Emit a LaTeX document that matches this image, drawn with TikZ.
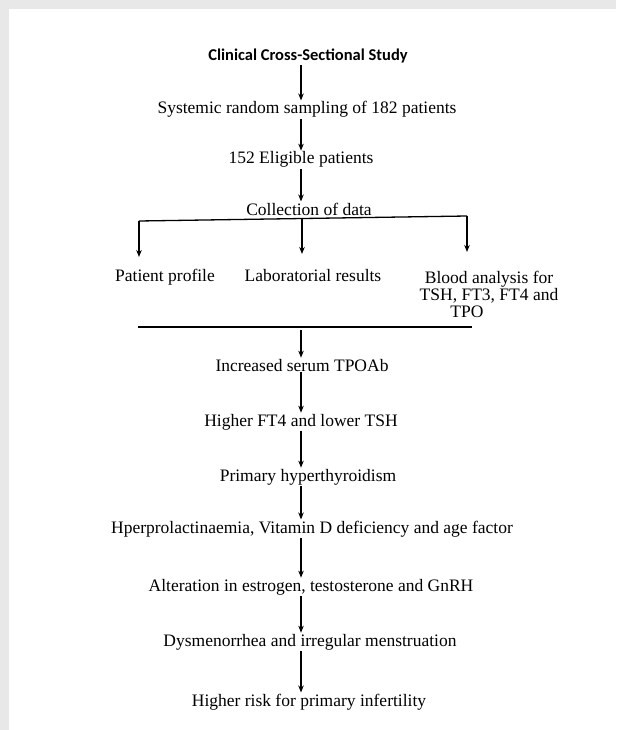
\documentclass[tikz,border=0pt]{standalone}
\usepackage{fontspec}
\setmainfont{Liberation Serif}
\newfontfamily\titlefont{Carlito}
\usetikzlibrary{arrows.meta}
\definecolor{framegray}{HTML}{E8E8E8}
\begin{document}
\begin{tikzpicture}[x=1pt, y=-1pt,
    txt/.style = {inner sep=1pt, anchor=base, font=\fontsize{17.5}{17.5}\selectfont},
    arr/.style = {-{Stealth[length=7pt, width=5.5pt]}, line width=1.3pt}]
    % page with grey frame
    \fill [framegray] (0,0) rectangle (616,730);
    \fill [white] (9,9) rectangle (616,730);
    \useasboundingbox (0,0) rectangle (616,730);

    \coordinate (spine) at (301,0);

    \node (title) [inner sep=1pt, anchor=base, font=\titlefont\bfseries\fontsize{16.5}{16.5}\selectfont] at (308,61) {Clinical Cross-Sectional Study};
    \node (samp) [txt] at (307,114) {Systemic random sampling of 182 patients};
    \node (elig) [txt] at (301,164) {152 Eligible patients};
    \node (coll) [txt] at (309,215) {Collection of data};

    % branches
    \node (prof) [txt] at (165,281) {Patient profile};
    \node (lab) [txt] at (313,281) {Laboratorial results};
    \node (blood) [txt, align=center, anchor=north, font=\fontsize{17.5}{17}\selectfont] at (489,270) {Blood analysis for\\TSH, FT3, FT4 and\\TPO\hspace*{44pt}};

    \coordinate (bl) at (139,221);
    \coordinate (bm) at (302,219);
    \coordinate (br) at (467,216);
    \coordinate (blend) at (139,257);
    \coordinate (bmend) at (302,254);
    \coordinate (brend) at (467,252);
    \draw [line width=1.3pt] (bl) -- (br);
    \draw [arr] (bl) -- (blend);
    \draw [arr] (bm) -- (bmend);
    \draw [arr] (br) -- (brend);

    \coordinate (jl) at (138,327);
    \coordinate (jr) at (472,327);
    \draw [line width=1.3pt] (jl) -- (jr);

    % lower chain
    \foreach \n/\x/\y/\t in {inc/302/371/{Increased serum TPOAb},
                              ft4/301/426/{Higher FT4 and lower TSH},
                              prim/308/481/{Primary hyperthyroidism},
                              hper/312/533/{Hperprolactinaemia, Vitamin D deficiency and age factor},
                              alt/311/591/{Alteration in estrogen, testosterone and GnRH},
                              dys/310/646/{Dysmenorrhea and irregular menstruation},
                              risk/309/706/{Higher risk for primary infertility}}
    {
      \node (\n) [txt] at (\x,\y) {\t};
    }

    \draw [arr] ([yshift=-3pt]jl -| spine) -- (inc.north -| spine);

    \foreach \a/\b in {title/samp, samp/elig, elig/coll, inc/ft4, ft4/prim, prim/hper, hper/alt, alt/dys, dys/risk}
    {
      \draw [arr] (\a.south -| spine) -- (\b.north -| spine);
    }
  \end{tikzpicture}
\end{document}
